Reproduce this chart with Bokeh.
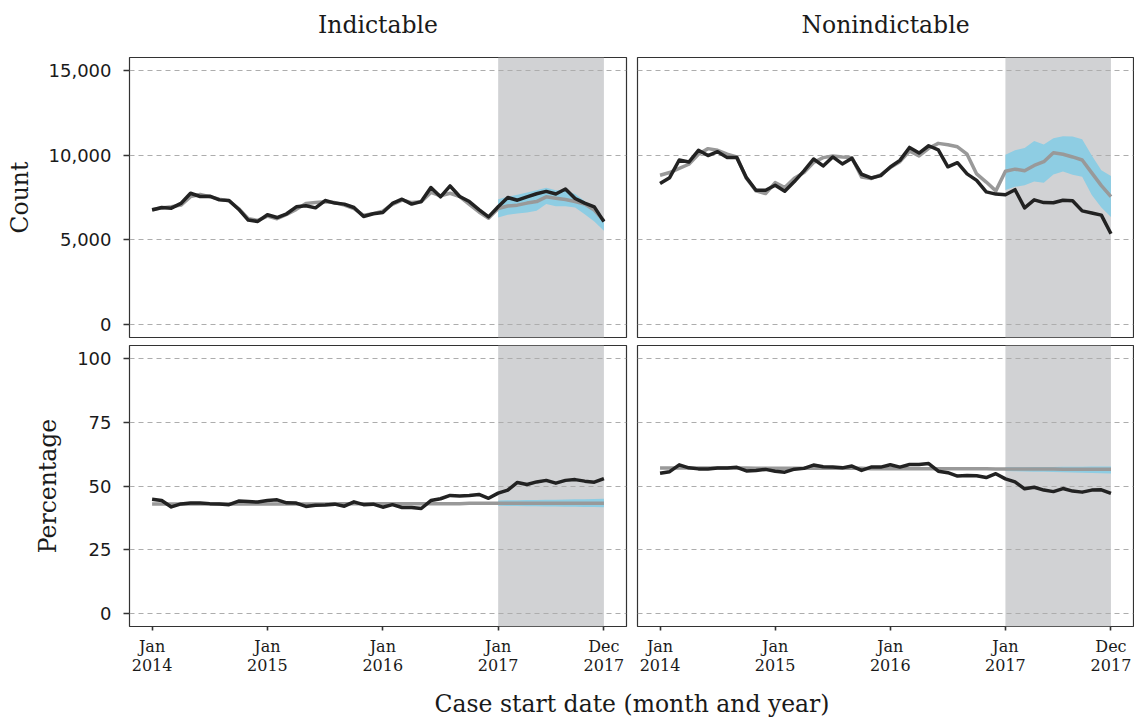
import numpy as np
from bokeh.plotting import figure
from bokeh.layouts import column, row
from bokeh.models import Range1d, FixedTicker, BoxAnnotation, NumeralTickFormatter, Label
from bokeh.embed import file_html
from bokeh.resources import INLINE

# Monthly case start dates, Jan 2014 - Dec 2017
months = [f"{y}-{m:02d}" for y in (2014, 2015, 2016, 2017) for m in range(1, 13)]
tick_months = ["2014-01", "2015-01", "2016-01", "2017-01", "2017-12"]
tick_labels = ["Jan\n2014", "Jan\n2015", "Jan\n2016", "Jan\n2017", "Dec\n2017"]
forecast_start, forecast_end = "2017-01", "2017-12"
offence_types = ["Indictable", "Nonindictable"]

# Indictable: monthly counts (observed vs. model)
ind_count_obs = [6760, 6910, 6870, 7150, 7750, 7560, 7580, 7360, 7320, 6810, 6170, 6090,
                 6480, 6320, 6540, 6950, 7010, 6890, 7320, 7170, 7110, 6910, 6380, 6540,
                 6620, 7150, 7400, 7110, 7260, 8090, 7540, 8180, 7560, 7260, 6790, 6360,
                 6950, 7500, 7340, 7540, 7720, 7860, 7710, 8000, 7440, 7170, 6950, 6080]
ind_count_fit = [6800, 6880, 6950, 7050, 7550, 7680, 7550, 7400, 7300, 6850, 6250, 6150,
                 6400, 6250, 6500, 6800, 7150, 7200, 7250, 7200, 7050, 6850, 6450, 6550,
                 6700, 7100, 7350, 7200, 7250, 7800, 7600, 7750, 7550, 7100, 6650, 6280,
                 6850, 7000, 7050, 7170, 7260, 7540, 7460, 7380, 7260, 7110, 6760, 6130]
ind_count_lo = [6320, 6480, 6560, 6620, 6720, 7110, 6990, 6990, 6910, 6520, 6090, 5540]
ind_count_hi = [7400, 7540, 7660, 7790, 7930, 8080, 7930, 7930, 7700, 7300, 6820, 6230]

# Nonindictable: monthly counts (observed vs. model)
non_count_obs = [8320, 8670, 9710, 9590, 10280, 9970, 10200, 9850, 9850, 8670, 7930, 7930,
                 8220, 7870, 8440, 9070, 9770, 9360, 9890, 9480, 9810, 8870, 8650, 8790,
                 9300, 9690, 10450, 10120, 10550, 10310, 9310, 9550, 8890, 8510, 7830, 7700,
                 7660, 7960, 6890, 7360, 7200, 7190, 7340, 7310, 6710, 6590, 6460, 5360]
non_count_fit = [8810, 8970, 9220, 9460, 10050, 10380, 10280, 10050, 9890, 8640, 7890, 7730,
                 8380, 8090, 8640, 8970, 9560, 9850, 9950, 9890, 9850, 8710, 8620, 8830,
                 9260, 9610, 10240, 9950, 10400, 10690, 10610, 10490, 10050, 8890, 8410, 7890,
                 9050, 9170, 9080, 9390, 9610, 10140, 10050, 9890, 9710, 8950, 8200, 7550]
non_count_lo = [7940, 8130, 8220, 8440, 8370, 8850, 9030, 8840, 8730, 7650, 6910, 6350]
non_count_hi = [10020, 10280, 10420, 10830, 10630, 10990, 11110, 11100, 10930, 9970, 9100, 8770]

# Indictable: percentage (observed vs. model)
ind_pct_obs = [44.8, 44.3, 41.8, 43.0, 43.3, 43.3, 43.1, 43.0, 42.7, 44.1, 43.9, 43.7,
               44.3, 44.6, 43.4, 43.3, 42.0, 42.5, 42.6, 42.9, 42.1, 43.8, 42.7, 42.9,
               41.7, 42.7, 41.6, 41.6, 41.2, 44.3, 45.0, 46.3, 46.1, 46.3, 46.7, 45.2,
               47.2, 48.4, 51.4, 50.6, 51.6, 52.2, 51.1, 52.2, 52.5, 51.9, 51.5, 52.9]
ind_pct_fit = [43.0, 43.0, 43.0, 43.0, 43.0, 43.0, 43.0, 43.0, 43.0, 43.0, 43.0, 43.0,
               43.0, 43.0, 43.0, 43.0, 43.0, 43.0, 43.0, 43.1, 43.1, 43.1, 43.1, 43.1,
               43.1, 43.1, 43.1, 43.1, 43.1, 43.1, 43.1, 43.1, 43.1, 43.2, 43.2, 43.2,
               43.2, 43.2, 43.2, 43.2, 43.2, 43.2, 43.2, 43.2, 43.2, 43.2, 43.2, 43.2]
ind_pct_lo = [42.3, 42.2, 42.2, 42.1, 42.1, 42.0, 42.0, 41.9, 41.9, 41.8, 41.8, 41.7]
ind_pct_hi = [44.3, 44.4, 44.4, 44.5, 44.5, 44.6, 44.6, 44.7, 44.8, 44.8, 44.9, 45.0]

# Nonindictable: percentage (observed vs. model)
non_pct_obs = [55.0, 55.6, 58.3, 57.1, 56.7, 56.7, 57.0, 57.0, 57.3, 55.9, 56.1, 56.5,
               55.8, 55.4, 56.6, 56.9, 58.2, 57.5, 57.4, 57.1, 57.8, 56.1, 57.4, 57.4,
               58.3, 57.4, 58.4, 58.4, 58.8, 55.8, 55.2, 53.9, 54.1, 54.0, 53.3, 54.8,
               52.8, 51.6, 48.9, 49.5, 48.4, 47.8, 49.0, 48.0, 47.6, 48.4, 48.5, 47.1]
non_pct_fit = [57.0, 57.0, 57.0, 57.0, 57.0, 57.0, 57.0, 57.0, 57.0, 57.0, 56.9, 56.9,
               56.9, 56.9, 56.9, 56.9, 56.9, 56.9, 56.9, 56.9, 56.9, 56.9, 56.8, 56.8,
               56.8, 56.8, 56.8, 56.8, 56.8, 56.8, 56.8, 56.8, 56.8, 56.8, 56.8, 56.7,
               56.7, 56.7, 56.7, 56.7, 56.7, 56.7, 56.6, 56.6, 56.6, 56.6, 56.6, 56.6]
non_pct_lo = [55.9, 55.8, 55.7, 55.6, 55.6, 55.5, 55.4, 55.3, 55.2, 55.1, 55.0, 54.9]
non_pct_hi = [57.3, 57.3, 57.3, 57.4, 57.4, 57.4, 57.5, 57.5, 57.5, 57.6, 57.6, 57.6]

# ---------------------------------------------------------------- styling
SERIF = "DejaVu Serif"
SANS = "DejaVu Sans"
INK = "#1a1a1a"
OBS_COLOR = "#222222"
FIT_COLOR = "#999999"
BAND_COLOR = "#8ecde3"
SHADE_COLOR = "#d1d2d4"
GRID_COLOR = "#adadad"
TITLE_SIZE = "23.5px"

x = np.arange(len(months))
i0 = months.index(forecast_start)
i1 = months.index(forecast_end)
xf = x[i0:i1 + 1]
tick_pos = [months.index(m) for m in tick_months]
x_lo, x_hi = -0.05 * (len(months) - 1), (len(months) - 1) * 1.05

# layout (pixels)
PAGE_W = 1134
LEFT_BORDER, GAP = 129, 11
FRAME_W_L, FRAME_W_R = 497, 496
HEADER_H = 53


def panel(obs, fit, lo, hi, y_range, y_ticks, *, left=False, bottom=False,
          y_label=None, y_fmt=None):
    border_left = LEFT_BORDER if left else 6
    border_right = 5 if left else 1
    border_top = 4
    border_bottom = 52 if bottom else 4
    frame_h = 281 if bottom else 280
    w = border_left + (FRAME_W_L if left else FRAME_W_R) + border_right
    h = border_top + frame_h + border_bottom
    p = figure(width=w, height=h, output_backend="svg", toolbar_location=None,
               x_range=Range1d(x_lo, x_hi), y_range=Range1d(*y_range),
               x_axis_location="below" if bottom else None,
               y_axis_location="left" if left else None,
               min_border_left=border_left, min_border_right=border_right,
               min_border_top=border_top, min_border_bottom=border_bottom,
               background_fill_color="white", border_fill_color="white")
    p.outline_line_color = "#333333"
    p.outline_line_width = 1.2

    p.xgrid.visible = False
    p.ygrid.ticker = FixedTicker(ticks=y_ticks)
    p.ygrid.grid_line_color = GRID_COLOR
    p.ygrid.grid_line_dash = "5 4"
    p.ygrid.grid_line_width = 1

    if left:
        ax = p.yaxis[0]
        ax.ticker = FixedTicker(ticks=y_ticks)
        if y_fmt:
            ax.formatter = NumeralTickFormatter(format=y_fmt)
        ax.axis_line_color = None
        ax.major_tick_in = 0
        ax.major_tick_out = 6
        ax.major_tick_line_color = "#333333"
        ax.major_tick_line_width = 1.6
        ax.minor_tick_line_color = None
        ax.major_label_text_font = SANS
        ax.major_label_text_font_size = "18px"
        ax.major_label_text_color = INK
        ax.major_label_standoff = 12
        ax.axis_label = y_label
        ax.axis_label_text_font = SERIF
        ax.axis_label_text_font_size = TITLE_SIZE
        ax.axis_label_text_font_style = "normal"
        ax.axis_label_text_color = INK
        ax.axis_label_standoff = 12

    if bottom:
        ax = p.xaxis[0]
        ax.ticker = FixedTicker(ticks=tick_pos)
        ax.major_label_overrides = {pos: lab for pos, lab in zip(tick_pos, tick_labels)}
        ax.axis_line_color = None
        ax.major_tick_in = 0
        ax.major_tick_out = 4
        ax.major_tick_line_color = "#333333"
        ax.major_tick_line_width = 1.6
        ax.minor_tick_line_color = None
        ax.major_label_text_font = SERIF
        ax.major_label_text_font_size = "16px"
        ax.major_label_text_line_height = 1.05
        ax.major_label_text_color = INK
        ax.major_label_standoff = 6

    # forecast period
    p.add_layout(BoxAnnotation(left=i0, right=i1, fill_color=SHADE_COLOR, fill_alpha=1.0,
                               line_color=None, level="image"))
    p.varea(x=xf, y1=lo, y2=hi, fill_color=BAND_COLOR, fill_alpha=1.0)
    p.line(x, fit, line_color=FIT_COLOR, line_width=3.5, line_join="round")
    p.line(x, obs, line_color=OBS_COLOR, line_width=3.5, line_join="round")
    return p


def text_strip(height, texts, centers, y_from_top):
    """A blank strip (pixel coordinates) carrying centred text labels."""
    s = figure(width=PAGE_W, height=height, output_backend="svg", toolbar_location=None,
               x_range=Range1d(0, PAGE_W), y_range=Range1d(0, height),
               x_axis_location=None, y_axis_location=None,
               min_border_left=0, min_border_right=0, min_border_top=0, min_border_bottom=0)
    s.outline_line_color = None
    s.xgrid.visible = False
    s.ygrid.visible = False
    for t, cx in zip(texts, centers):
        s.add_layout(Label(x=cx, y=height - y_from_top, text=t,
                           text_align="center", text_baseline="middle",
                           text_font=SERIF, text_font_size=TITLE_SIZE, text_color=INK))
    return s


count_range = (-750, 15750)
count_ticks = [0, 5000, 10000, 15000]
pct_range = (-5, 105)
pct_ticks = [0, 25, 50, 75, 100]

tl = panel(ind_count_obs, ind_count_fit, ind_count_lo, ind_count_hi, count_range, count_ticks,
           left=True, y_label="Count", y_fmt="0,0")
tr = panel(non_count_obs, non_count_fit, non_count_lo, non_count_hi, count_range, count_ticks)
bl = panel(ind_pct_obs, ind_pct_fit, ind_pct_lo, ind_pct_hi, pct_range, pct_ticks,
           left=True, bottom=True, y_label="Percentage")
br = panel(non_pct_obs, non_pct_fit, non_pct_lo, non_pct_hi, pct_range, pct_ticks,
           bottom=True)

# facet strip labels above each column
col_centers = [LEFT_BORDER + FRAME_W_L / 2,
               LEFT_BORDER + FRAME_W_L + GAP + FRAME_W_R / 2]
header = text_strip(HEADER_H, offence_types, col_centers, 24)

# shared x-axis title centred under both columns
plot_center = (LEFT_BORDER + PAGE_W) / 2
cap = text_strip(39, ["Case start date (month and year)"], [plot_center], 25)

layout = column(header, row(tl, tr), row(bl, br), cap, spacing=0)

with open("out.html", "w") as f:
    f.write(file_html(layout, INLINE))
